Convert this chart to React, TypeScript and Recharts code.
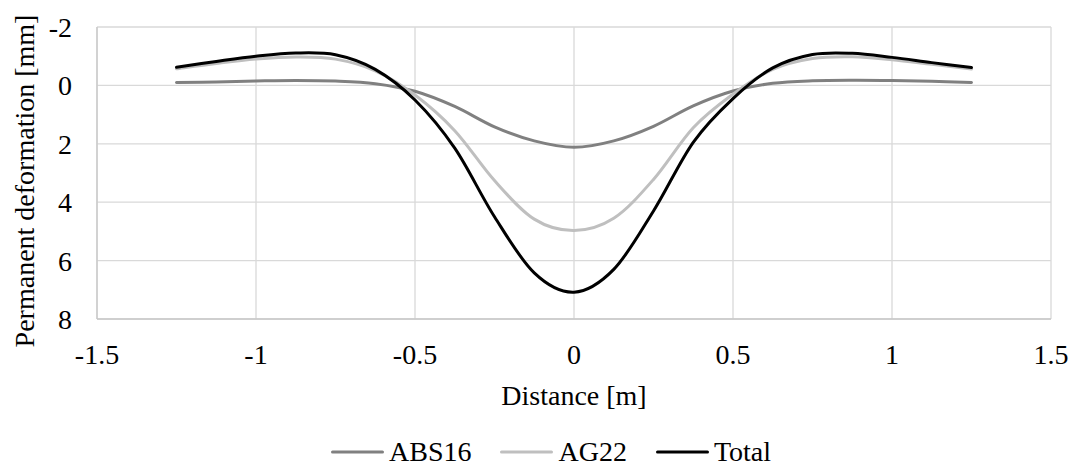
import { CartesianGrid, Legend, Line, LineChart, XAxis, YAxis } from "recharts";

const distance = [
  -1.25, -1.125, -1, -0.875, -0.75, -0.625, -0.5, -0.375, -0.25, -0.125, 0,
  0.125, 0.25, 0.375, 0.5, 0.625, 0.75, 0.875, 1, 1.125, 1.25,
];
const abs16 = [
  -0.1, -0.12, -0.15, -0.17, -0.15, -0.06, 0.2, 0.72, 1.42, 1.9, 2.12,
  1.9, 1.4, 0.7, 0.19, -0.07, -0.16, -0.18, -0.17, -0.14, -0.1,
];
const ag22 = [
  -0.57, -0.75, -0.9, -0.97, -0.9, -0.5, 0.33, 1.55, 3.26, 4.58, 4.97,
  4.55, 3.22, 1.45, 0.3, -0.55, -0.92, -0.98, -0.88, -0.72, -0.56,
];
const total = [
  -0.62, -0.82, -1.0, -1.11, -1.05, -0.55, 0.5, 2.15, 4.5, 6.42, 7.08,
  6.3, 4.3, 1.95, 0.45, -0.6, -1.06, -1.1, -0.96, -0.78, -0.61,
];
const xTicks = [-1.5, -1, -0.5, 0, 0.5, 1, 1.5];
const yTicks = [-2, 0, 2, 4, 6, 8];

const series = [
  { key: "abs16", name: "ABS16", color: "#808080" },
  { key: "ag22", name: "AG22", color: "#bfbfbf" },
  { key: "total", name: "Total", color: "#000000" },
];

const data = distance.map((d, i) => ({
  distance: d,
  abs16: abs16[i],
  ag22: ag22[i],
  total: total[i],
}));

const FONT = "Liberation Serif, Times New Roman, DejaVu Serif, serif";
const tickStyle = { fontSize: 28, fill: "#000", fontFamily: FONT };

// smooth line through every point, like Excel's "smoothed line"
function smoothCurve(context: any) {
  let pts: number[][] = [];
  return {
    areaStart() {},
    areaEnd() {},
    lineStart() {
      pts = [];
    },
    point(x: number, y: number) {
      pts.push([+x, +y]);
    },
    lineEnd() {
      if (!pts.length) return;
      context.moveTo(pts[0][0], pts[0][1]);
      for (let i = 0; i < pts.length - 1; i++) {
        const p0 = pts[i - 1] || pts[i];
        const p1 = pts[i];
        const p2 = pts[i + 1];
        const p3 = pts[i + 2] || p2;
        context.bezierCurveTo(
          p1[0] + (p2[0] - p0[0]) / 6,
          p1[1] + (p2[1] - p0[1]) / 6,
          p2[0] - (p3[0] - p1[0]) / 6,
          p2[1] - (p3[1] - p1[1]) / 6,
          p2[0],
          p2[1]
        );
      }
    },
  };
}

function LegendContent() {
  return (
    <div
      style={{
        display: "flex",
        alignItems: "center",
        height: 28,
        marginTop: 12,
        paddingLeft: 331,
        fontFamily: FONT,
        fontSize: 28,
        color: "#000",
        lineHeight: "28px",
      }}
    >
      {series.map((s) => (
        <div key={s.key} style={{ display: "flex", alignItems: "center", marginRight: 29 }}>
          <svg width={53} height={6} style={{ marginRight: 5 }}>
            <line x1={1.5} y1={3} x2={51.5} y2={3} stroke={s.color} strokeWidth={3} strokeLinecap="round" />
          </svg>
          <span>{s.name}</span>
        </div>
      ))}
    </div>
  );
}

export default function App() {
  return (
    <div style={{ position: "absolute", left: 0, top: 0, width: 1073, height: 466, background: "#fff" }}>
      <LineChart
        width={1073}
        height={466}
        data={data}
        margin={{ top: 27, right: 22, left: 0, bottom: 0 }}
        style={{ fontFamily: FONT }}
      >
        <CartesianGrid stroke="#d9d9d9" strokeWidth={1.3} horizontalValues={yTicks} verticalValues={xTicks} />
        <XAxis
          dataKey="distance"
          type="number"
          domain={[-1.5, 1.5]}
          ticks={xTicks}
          height={107}
          tickLine={false}
          tickSize={0}
          tickMargin={25}
          axisLine={{ stroke: "#c8c8c8", strokeWidth: 1.3 }}
          tick={tickStyle}
          label={{
            value: "Distance [m]",
            position: "insideTop",
            offset: 66,
            style: { fontSize: 28, fill: "#000", fontFamily: FONT },
          }}
        />
        <YAxis
          type="number"
          reversed
          domain={[-2, 8]}
          ticks={yTicks}
          width={97}
          tickLine={false}
          tickSize={0}
          tickMargin={25}
          axisLine={{ stroke: "#c8c8c8", strokeWidth: 1.3 }}
          tick={tickStyle}
          label={{
            value: "Permanent deformation [mm]",
            angle: -90,
            position: "insideLeft",
            offset: 24,
            dy: 8,
            style: { fontSize: 28, fill: "#000", fontFamily: FONT, textAnchor: "middle" },
          }}
        />
        <Legend
          verticalAlign="bottom"
          height={40}
          wrapperStyle={{ left: 0, width: 1073, bottom: 0 }}
          content={<LegendContent />}
        />
        {series.map((s) => (
          <Line
            key={s.key}
            type={smoothCurve as any}
            dataKey={s.key}
            name={s.name}
            stroke={s.color}
            strokeWidth={3}
            strokeLinecap="round"
            dot={false}
            activeDot={false}
            isAnimationActive={false}
          />
        ))}
      </LineChart>
    </div>
  );
}
